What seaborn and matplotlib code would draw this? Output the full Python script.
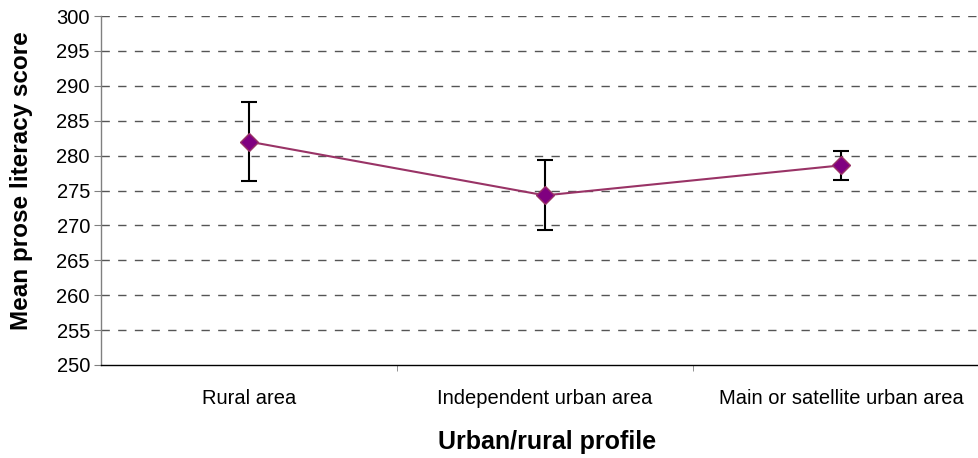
import pandas as pd
import matplotlib
matplotlib.use('Agg')
import matplotlib.pyplot as plt
import seaborn as sns

# values
categories = ['Rural area', 'Independent urban area', 'Main or satellite urban area']
mean_score = [282.0, 274.3, 278.6]
ci_halfwidth = [5.7, 5.0, 2.1]
y_ticks = list(range(250, 301, 5))

df = pd.DataFrame({'profile': categories, 'score': mean_score, 'ci': ci_halfwidth})
df['pos'] = range(len(df))

sns.set_style('white')
plt.rcParams['font.family'] = ['Liberation Sans', 'DejaVu Sans']
plt.rcParams['text.color'] = 'black'
plt.rcParams['axes.labelcolor'] = 'black'
plt.rcParams['xtick.color'] = 'black'
plt.rcParams['ytick.color'] = 'black'

fig = plt.figure(figsize=(9.79, 4.58), dpi=100)
ax = fig.add_axes([101 / 979, 93 / 458, 888 / 979, 349 / 458])

# error bars first so the markers sit on top
ax.errorbar(df['pos'], df['score'], yerr=df['ci'], fmt='none', ecolor='black',
            elinewidth=1.5, capsize=5.8, capthick=1.5, zorder=3)
sns.lineplot(data=df, x='pos', y='score', ax=ax, color='#993366', lw=1.5,
             marker='D', markersize=9, markerfacecolor='#800080',
             markeredgecolor='#993366', markeredgewidth=1, zorder=4)

ax.set_xlim(-0.5, 2.5)
ax.set_ylim(250, 300)
ax.set_yticks(y_ticks)
ax.set_xticks(df['pos'])
ax.set_xticklabels(categories, fontsize=14.5)
ax.set_xticks([0.5, 1.5], minor=True)
ax.tick_params(axis='x', which='major', length=0, pad=17)
ax.tick_params(axis='x', which='minor', length=4, color='#808080', bottom=True)
ax.tick_params(axis='y', left=True, length=5, color='#808080', labelcolor='black',
               labelsize=14.5, pad=3)

for y in y_ticks[1:]:
    ax.axhline(y, color='#555555', lw=1, ls=(0, (6, 6)), zorder=1)

for s in ['top', 'right']:
    ax.spines[s].set_visible(False)
ax.spines['left'].set_color('#808080')
ax.spines['bottom'].set_color('black')
ax.spines['left'].set_linewidth(1)
ax.spines['bottom'].set_linewidth(1)

ax.set_xlabel('Urban/rural profile', fontsize=18, fontweight='bold', va='top')
ax.set_ylabel('Mean prose literacy score', fontsize=17.5, fontweight='bold')
ax.xaxis.set_label_coords(0.502, -0.185)
ax.yaxis.set_label_coords(-0.077, 0.527)

fig.savefig('out.png', dpi=100)
